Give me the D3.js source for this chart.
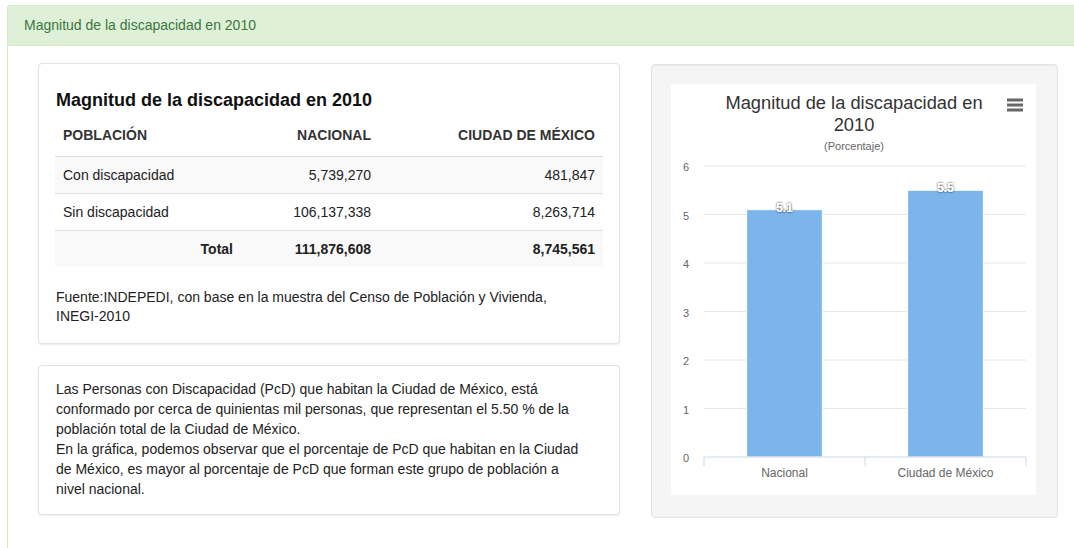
<!DOCTYPE html>
<html>
<head>
<meta charset="utf-8">
<script src="https://cdn.jsdelivr.net/npm/d3@7"></script>
<style>
  body { margin: 0; width: 1074px; height: 548px; overflow: hidden; background: #fff;
         font-family: "Liberation Sans", Arial, sans-serif; color: #333; font-size: 14px; }
  .abs { position: absolute; box-sizing: border-box; }
  .heading { left: 7px; top: 5px; width: 1080px; height: 41px; background: #dff0d8;
             border: 1px solid #d6e9c6; border-radius: 3px 0 0 0; color: #3c763d;
             padding-left: 16px; line-height: 38px; font-size: 14px; }
  .bodyline { left: 7px; top: 46px; width: 1px; height: 510px; background: #d6e9c6; }
  .box { background: #fff; border: 1px solid #e3e3e3; border-radius: 4px;
         box-shadow: 0 1px 2px rgba(0,0,0,0.08); }
  .well { background: #f5f5f5; border: 1px solid #e3e3e3; border-radius: 4px;
          box-shadow: inset 0 1px 1px rgba(0,0,0,0.05); }
  table { border-collapse: collapse; table-layout: fixed; font-size: 14px; }
  td, th { padding: 0 8px; }
  th { text-align: left; font-weight: bold; }
  tbody tr td { border-top: 1px solid #ddd; }
  tbody tr:nth-child(odd) { background: #f9f9f9; }
  .txt { line-height: 20px; font-size: 14px; color: #333; }
</style>
</head>
<body>
<div class="abs heading">Magnitud de la discapacidad en 2010</div>
<div class="abs bodyline"></div>

<div class="abs box" style="left:38px;top:63px;width:582px;height:281px;"></div>
<div class="abs" style="left:56px;top:89px;font-size:18px;font-weight:bold;line-height:22px;color:#111;">Magnitud de la discapacidad en 2010</div>
<div class="abs" id="tbl" style="left:55px;top:117px;"></div>
<div class="abs txt" style="left:56px;top:288px;width:548px;line-height:19px;color:#222;">Fuente:INDEPEDI, con base en la muestra del Censo de Población y Vivienda,<br>INEGI-2010</div>

<div class="abs box" style="left:38px;top:365px;width:582px;height:150px;"></div>
<div class="abs txt" id="nota" style="left:56px;top:379px;width:560px;color:#222;"></div>

<div class="abs well" style="left:651px;top:64px;width:407px;height:454px;"></div>
<div class="abs" id="chart" style="left:671px;top:84px;width:365px;height:411px;background:#fff;"></div>

<script>
// ---- data ----
const tableHeaders = ["POBLACIÓN", "NACIONAL", "CIUDAD DE MÉXICO"];
const rowLabels = ["Con discapacidad", "Sin discapacidad", "Total"];
const nacional = [5739270, 106137338, 111876608];
const cdmx = [481847, 8263714, 8745561];

const categories = ["Nacional", "Ciudad de México"];
const porcentaje = [5.1, 5.5];
const yTicks = [0, 1, 2, 3, 4, 5, 6];

const notaLines = [
  "Las Personas con Discapacidad (PcD) que habitan la Ciudad de México, está",
  "conformado por cerca de quinientas mil personas, que representan el 5.50 % de la",
  "población total de la Ciudad de México.",
  "En la gráfica, podemos observar que el porcentaje de PcD que habitan en la Ciudad",
  "de México, es mayor al porcentaje de PcD que forman este grupo de población a",
  "nivel nacional."
];

// ---- table ----
const fmt = d3.format(",");
const colW = [186, 138, 224];
const table = d3.select("#tbl").append("table").style("width", "548px");
table.append("colgroup").selectAll("col").data(colW).join("col").style("width", d => d + "px");
table.append("thead").append("tr").selectAll("th").data(tableHeaders).join("th")
    .style("height", "36px")
    .style("vertical-align", "middle")
    .style("padding-bottom", "3px")
    .style("text-align", (d, i) => i === 0 ? "left" : "right")
    .text(d => d);
const rows = table.append("tbody").selectAll("tr")
    .data(rowLabels.map((r, i) => [r, fmt(nacional[i]), fmt(cdmx[i])]))
    .join("tr");
rows.selectAll("td").data((d, ri) => d.map(v => ({v, total: ri === 2})))
    .join("td")
    .style("height", "36px")
    .style("text-align", (d, i) => (i === 0 && !d.total) ? "left" : "right")
    .style("font-weight", d => d.total ? "bold" : "normal")
    .style("color", "#222")
    .text(d => d.v);

d3.select("#nota").html(notaLines.join("<br>"));

// ---- chart ----
const W = 365, H = 411;
const margin = {top: 82, right: 10, bottom: 38, left: 33};
const pw = W - margin.left - margin.right;
const ph = H - margin.top - margin.bottom;

const svg = d3.select("#chart").append("svg")
    .attr("width", W).attr("height", H)
    .style("font-family", "'Liberation Sans', Arial, sans-serif");

const defs = svg.append("defs");
const shadow = defs.append("filter").attr("id", "lblshadow")
    .attr("x", "-50%").attr("y", "-50%").attr("width", "200%").attr("height", "200%");
shadow.append("feDropShadow").attr("dx", 0).attr("dy", 0).attr("stdDeviation", 0.9)
    .attr("flood-color", "#000").attr("flood-opacity", 0.9);

svg.append("text").attr("x", 183).attr("y", 25).attr("text-anchor", "middle")
    .attr("font-size", 18.3).attr("fill", "#333").text("Magnitud de la discapacidad en");
svg.append("text").attr("x", 183).attr("y", 47).attr("text-anchor", "middle")
    .attr("font-size", 18.3).attr("fill", "#333").text("2010");
svg.append("text").attr("x", 183).attr("y", 66).attr("text-anchor", "middle")
    .attr("font-size", 11).attr("fill", "#666").text("(Porcentaje)");

// menu icon
svg.append("g").selectAll("line").data([0, 5, 10]).join("line")
    .attr("x1", 336).attr("x2", 352)
    .attr("y1", d => 16 + d).attr("y2", d => 16 + d)
    .attr("stroke", "#666").attr("stroke-width", 3);

const g = svg.append("g").attr("transform", `translate(${margin.left},${margin.top})`);

const x = d3.scaleBand().domain(categories).range([0, pw]).paddingInner(0.53).paddingOuter(0.265);
const band = d3.scaleBand().domain(categories).range([0, pw]);
const y = d3.scaleLinear().domain([0, 6]).range([ph, 0]);

// grid
g.append("g").selectAll("line").data(yTicks.slice(1)).join("line")
    .attr("x1", 0).attr("x2", pw)
    .attr("y1", d => y(d)).attr("y2", d => y(d))
    .attr("stroke", "#e6e6e6").attr("stroke-width", 1);

// y labels
g.append("g").selectAll("text").data(yTicks).join("text")
    .attr("x", -15).attr("y", d => y(d) + 5)
    .attr("text-anchor", "end").attr("font-size", 11).attr("fill", "#666")
    .text(d => d);

// bars
g.append("g").selectAll("rect").data(porcentaje).join("rect")
    .attr("x", (d, i) => x(categories[i]))
    .attr("width", x.bandwidth())
    .attr("y", d => y(d))
    .attr("height", d => ph - y(d))
    .attr("fill", "#7cb5ec").attr("stroke", "#fff").attr("stroke-width", 1);

// x axis
const xAxis = g.append("g").attr("transform", `translate(0,${ph})`);
xAxis.append("line").attr("x1", 0).attr("x2", pw).attr("stroke", "#ccd6eb");
xAxis.selectAll("line.tick").data([0, 1, 2]).join("line").attr("class", "tick")
    .attr("x1", d => d * band.step()).attr("x2", d => d * band.step())
    .attr("y1", 0).attr("y2", 9).attr("stroke", "#ccd6eb");
xAxis.selectAll("text").data(categories).join("text")
    .attr("x", d => band(d) + band.bandwidth() / 2).attr("y", 20)
    .attr("text-anchor", "middle").attr("font-size", 12).attr("fill", "#666")
    .text(d => d);

// data labels
g.append("g").selectAll("text").data(porcentaje).join("text")
    .attr("x", (d, i) => x(categories[i]) + x.bandwidth() / 2)
    .attr("y", d => y(d) + 2)
    .attr("text-anchor", "middle").attr("font-size", 12).attr("font-weight", "bold")
    .attr("fill", "#fff").attr("filter", "url(#lblshadow)")
    .text(d => d);
</script>
</body>
</html>
